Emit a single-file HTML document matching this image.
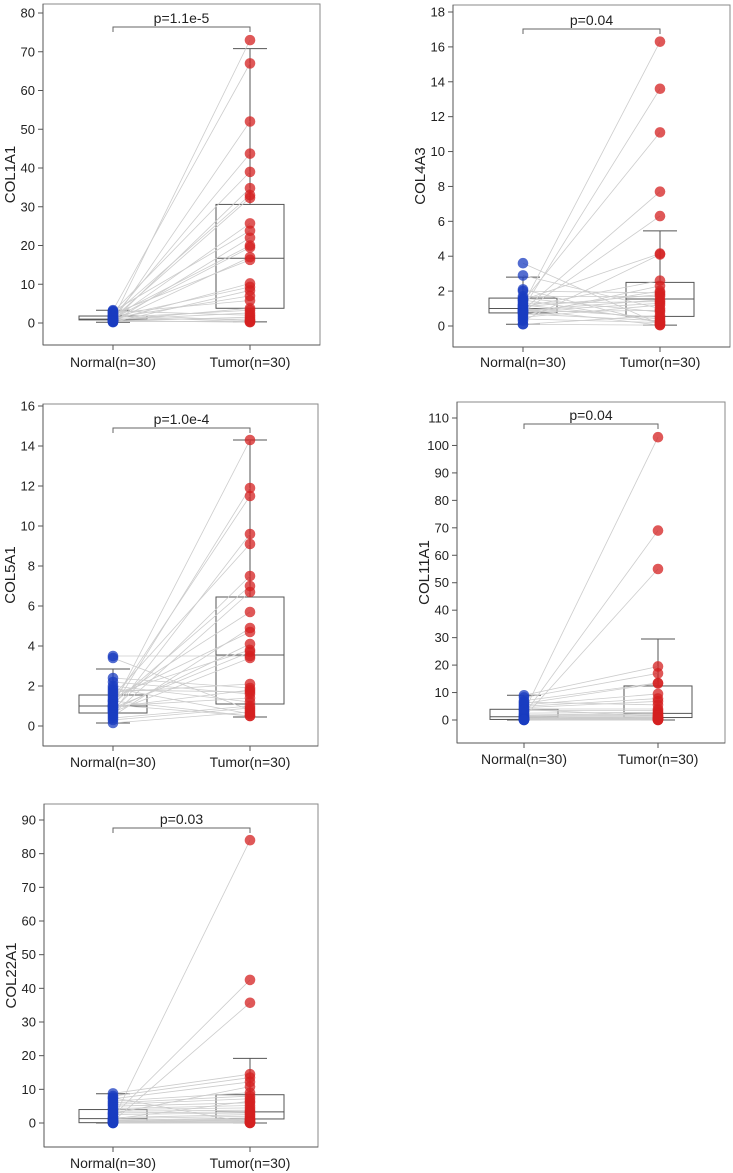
<!DOCTYPE html>
<html><head><meta charset="utf-8">
<style>
html,body{margin:0;padding:0;background:#fff;}
svg{display:block;font-family:"Liberation Sans",Arial,sans-serif;}
</style></head>
<body>
<svg id="fig" width="733" height="1173" viewBox="0 0 733 1173"></svg>
<script>
// ---- data arrays ----
const groupLabels = ["Normal(n=30)", "Tumor(n=30)"];
const geneNames = ["COL1A1", "COL4A3", "COL5A1", "COL11A1", "COL22A1"];
const pValues = ["p=1.1e-5", "p=0.04", "p=1.0e-4", "p=0.04", "p=0.03"];
const yMaxTicks = [80, 18, 16, 110, 90];
const yTickSteps = [10, 2, 2, 10, 10];

const col1a1Normal = [1.0,3.3,0.4,1.5,2.8,0.6,2.0,1.2,0.9,3.0,0.3,1.8,1.1,0.5,2.4,0.8,1.6,0.2,1.3,2.6,0.7,1.4,0.9,3.1,0.5,1.0,2.2,0.4,1.7,0.6];
const col1a1Tumor = [73,67,52,43.7,39,34.8,33,32.3,25.7,23.8,22,20,19.5,17,16.3,10.2,9.3,8.4,7,5.8,3.8,3.3,2.6,2,1.5,1,0.6,0.4,0.3,0.2];
const col1a1Box = {normal:[0.2,0.8,1.0,1.8,3.3], tumor:[0.3,3.8,16.7,30.6,70.8]};

const col4a3Normal = [1.2,1.0,1.4,0.9,0.8,1.5,0.3,1.1,0.6,2.0,1.7,3.6,0.9,1.3,0.5,2.9,0.8,1.6,0.1,1.0,1.2,0.7,1.5,0.4,2.1,1.1,0.95,0.85,0.75,0.1];
const col4a3Tumor = [16.3,13.6,11.1,7.7,6.3,4.15,4.1,2.6,2.3,1.9,1.7,0.1,1.5,1.4,1.2,1.0,0.9,0.8,0.6,0.5,0.4,0.3,0.25,0.2,0.15,1.8,0.05,1.3,2.0,0.05];
const col4a3Box = {normal:[0.1,0.75,1.0,1.6,2.8], tumor:[0.05,0.55,1.55,2.5,5.45]};

const col5a1Normal = [1.0,0.9,1.2,0.7,1.5,0.8,1.1,0.6,1.3,0.5,1.4,0.8,1.6,0.9,3.5,0.7,1.7,2.4,1.8,2.2,1.0,2.0,0.4,0.3,3.4,0.15,1.9,1.25,1.05,0.95];
const col5a1Tumor = [14.3,11.9,11.5,9.6,9.1,7.5,7.0,6.7,5.7,4.9,4.7,4.1,3.8,3.7,3.5,3.4,2.1,1.9,1.7,1.6,1.4,1.2,1.0,0.9,0.8,0.7,0.6,0.5,0.5,1.8];
const col5a1Box = {normal:[0.15,0.65,1.0,1.55,2.85], tumor:[0.45,1.1,3.55,6.45,14.3]};

const col11a1Normal = [3.0,2.0,1.0,9,8.2,7,6,5.5,5,4.5,4,3.5,2.5,1.8,1.5,1.2,0.8,0.6,0.5,0.4,0.3,0.2,0.2,0.1,0.1,0.05,0,0,6.5,3.8];
const col11a1Tumor = [103,69,55,19.5,17,13.5,13.3,9.5,7.8,6.8,4,3.5,2.8,2.4,2.0,1.6,1.2,1.0,0.8,0.6,0.5,0.4,0.3,0.2,0.1,0.1,0,0,5.5,1.5];
const col11a1Box = {normal:[0,0.2,1.2,3.9,9], tumor:[0,0.9,2.4,12.4,29.5]};

const col22a1Normal = [1.0,2.0,0.5,8.8,8,7.2,6.5,6,5.5,5,4.3,4,3.5,3,2.5,1.6,1.3,0.8,0.6,0.4,0.3,0.2,0.1,0.1,0,0,0,7.5,2.8,1.2];
const col22a1Tumor = [84,42.5,35.7,14.5,13.5,12.2,9,8,7.2,6,5.2,4.5,3.8,3.3,3,2.5,2,1.5,1.2,1.0,0.8,0.5,0.3,0.2,0.1,0.1,0,0,10.8,6.5];
const col22a1Box = {normal:[0,0.1,1.3,4.0,8.7], tumor:[0,1.2,3.3,8.4,19.2]};

const panelNormals = [col1a1Normal, col4a3Normal, col5a1Normal, col11a1Normal, col22a1Normal];
const panelTumors = [col1a1Tumor, col4a3Tumor, col5a1Tumor, col11a1Tumor, col22a1Tumor];
const panelBoxes = [col1a1Box, col4a3Box, col5a1Box, col11a1Box, col22a1Box];

// ---- layout (pixels) ----
const layouts = [
  {L:43,R:320,T:4,B:345,y0:323,yTop:13,xN:113,xT:250,brY:27,labY:362},
  {L:453,R:730,T:5,B:347,y0:326,yTop:12,xN:523,xT:660,brY:29,labY:362},
  {L:43,R:318,T:404,B:746,y0:726,yTop:406,xN:113,xT:250,brY:428,labY:762},
  {L:457,R:725,T:402,B:743,y0:720,yTop:418,xN:524,xT:658,brY:424,labY:759},
  {L:44,R:318,T:804,B:1147,y0:1123,yTop:820,xN:113,xT:250,brY:828,labY:1163}
];

const NS = "http://www.w3.org/2000/svg";
const svg = document.getElementById("fig");
function mk(tag, attrs, parent){
  const e = document.createElementNS(NS, tag);
  for (const k in attrs) e.setAttribute(k, attrs[k]);
  (parent||svg).appendChild(e);
  return e;
}

function drawPanel(i){
  const g = mk("g", {});
  
  
  const P = layouts[i];
  const yScale = v => P.y0 - v * (P.y0 - P.yTop) / yMaxTicks[i];
  const xN = P.xN, xT = P.xT;

  const fr = mk("rect", {x:P.L, y:P.T, width:P.R-P.L, height:P.B-P.T, fill:"none", stroke:"#8a8a8a", "stroke-width":1}, g);
  
  
  mk("line", {x1:P.L, y1:P.T, x2:P.L, y2:P.B, stroke:"#555", "stroke-width":1}, g);
  mk("line", {x1:P.L, y1:P.B, x2:P.R, y2:P.B, stroke:"#555", "stroke-width":1}, g);

  for (let v = 0; v <= yMaxTicks[i] + 1e-9; v += yTickSteps[i]) {
    const y = yScale(v);
    mk("line", {x1:P.L-5, y1:y, x2:P.L, y2:y, stroke:"#555"}, g);
    const t = mk("text", {x:P.L-8, y:y+4.5, "text-anchor":"end", "font-size":13, fill:"#222"}, g);
    t.textContent = v;
    
    
  }
  const yt = mk("text", {x:0, y:0, transform:`translate(${P.L-28},${(P.T+P.B)/2}) rotate(-90)`, "text-anchor":"middle", "font-size":15, fill:"#222"}, g);
  yt.textContent = geneNames[i];
  
  

  [xN, xT].forEach((x, k) => {
    mk("line", {x1:x, y1:P.B, x2:x, y2:P.B+5, stroke:"#555"}, g);
    const t = mk("text", {x:x, y:P.labY+5, "text-anchor":"middle", "font-size":14, fill:"#222"}, g);
    t.textContent = groupLabels[k];
    
    
  });

  const br = mk("path", {d:`M${xN},${P.brY+5} V${P.brY} H${xT} V${P.brY+5}`, fill:"none", stroke:"#666", "stroke-width":1}, g);
  
  
  const pt = mk("text", {x:(xN+xT)/2, y:P.brY-4, "text-anchor":"middle", "font-size":14, fill:"#222"}, g);
  pt.textContent = pValues[i];
  
  

  const box = panelBoxes[i];
  [[box.normal, xN, 'normal'], [box.tumor, xT, 'tumor']].forEach(([s, x, nm]) => {
    const hw = 34, cw = 17;
    const bg = mk("g", {}, g);
    
    
    mk("line", {x1:x, y1:yScale(s[3]), x2:x, y2:yScale(s[4]), stroke:"#555"}, bg);
    mk("line", {x1:x, y1:yScale(s[1]), x2:x, y2:yScale(s[0]), stroke:"#555"}, bg);
    mk("line", {x1:x-cw, y1:yScale(s[4]), x2:x+cw, y2:yScale(s[4]), stroke:"#555"}, bg);
    mk("line", {x1:x-cw, y1:yScale(s[0]), x2:x+cw, y2:yScale(s[0]), stroke:"#555"}, bg);
    mk("rect", {x:x-hw, y:yScale(s[3]), width:2*hw, height:Math.max(1, yScale(s[1])-yScale(s[3])), fill:"none", stroke:"#555"}, bg);
    mk("line", {x1:x-hw, y1:yScale(s[2]), x2:x+hw, y2:yScale(s[2]), stroke:"#555"}, bg);
  });

  const nArr = panelNormals[i], tArr = panelTumors[i];
  for (let k = 0; k < nArr.length; k++) {
    const l = mk("line", {x1:xN, y1:yScale(nArr[k]), x2:xT, y2:yScale(tArr[k]), stroke:"#cccccc", "stroke-width":0.8}, g);
    
    
  }
  nArr.forEach(v => {
    const c = mk("circle", {cx:xN, cy:yScale(v), r:5.3, fill:"#1a3cc0", "fill-opacity":0.75}, g);
    
    
  });
  tArr.forEach(v => {
    const c = mk("circle", {cx:xT, cy:yScale(v), r:5.3, fill:"#d42020", "fill-opacity":0.75}, g);
    
    
  });
}
for (let i = 0; i < 5; i++) drawPanel(i);
</script>
</body></html>
